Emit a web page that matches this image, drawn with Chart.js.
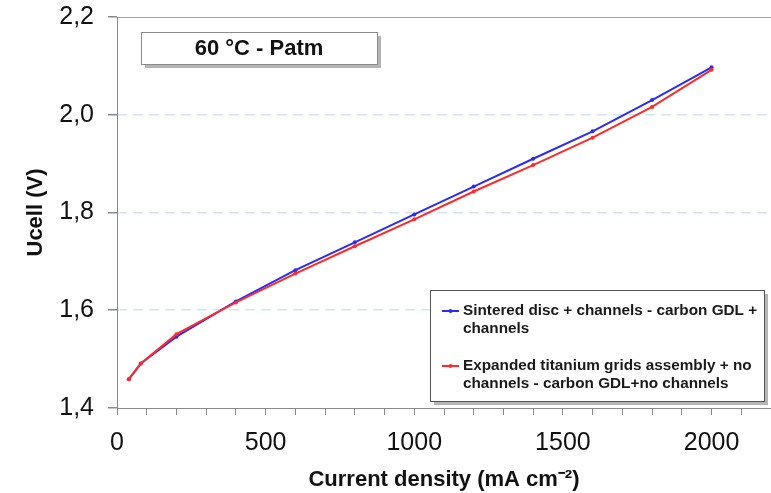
<!DOCTYPE html>
<html>
<head>
<meta charset="utf-8">
<script src="https://cdn.jsdelivr.net/npm/chart.js@4"></script>
<style>
  html, body { margin: 0; padding: 0; background: #fff; }
  #wrap { width: 771px; height: 493px; }
</style>
</head>
<body>
<div id="wrap"><canvas id="polCurve"></canvas></div>
<script>
// Polarisation curves, 60 °C, atmospheric pressure
const currentDensity = [40, 80, 200, 400, 600, 800, 1000, 1200, 1400, 1600, 1800, 2000];
const sinteredDisc = [1.459, 1.491, 1.546, 1.618, 1.682, 1.739, 1.796, 1.853, 1.910, 1.966, 2.030, 2.097];
const expandedGrid = [1.459, 1.491, 1.551, 1.616, 1.675, 1.731, 1.786, 1.843, 1.897, 1.953, 2.016, 2.092];
const seriesNames = [
    ['Sintered disc + channels - carbon GDL +', 'channels'],
    ['Expanded titanium grids assembly + no', 'channels - carbon GDL+no channels'],
];
const yTicks = [1.4, 1.6, 1.8, 2.0, 2.2];
const xLabels = [0, 500, 1000, 1500, 2000];
const conditionText = '60 °C - Patm';

const BLUE = '#2a2aff';
const RED = '#ff2a2a';
const AXIS = '#8a8a8a';
const FONT = '"Liberation Sans", Arial, sans-serif';

// plot frame (top + left lines), boxed caption and legend with drop shadows
const boxesPlugin = {
    id: 'boxes',
    beforeDatasetsDraw(chart) {
        const { ctx, chartArea } = chart;
        ctx.save();
        ctx.strokeStyle = '#a0a0a0';
        ctx.lineWidth = 1;
        ctx.beginPath();
        ctx.moveTo(chartArea.left, chartArea.top + 0.5);
        ctx.lineTo(chartArea.right, chartArea.top + 0.5);
        ctx.stroke();
        ctx.strokeStyle = AXIS;
        ctx.beginPath();
        ctx.moveTo(chartArea.left + 0.5, chartArea.top);
        ctx.lineTo(chartArea.left + 0.5, chartArea.bottom);
        ctx.stroke();
        ctx.restore();
    },
    afterDraw(chart) {
        const ctx = chart.ctx;
        const drawBox = (x, y, w, h, border) => {
            ctx.fillStyle = '#b5b5b5';
            ctx.fillRect(x + 4, y + 4, w, h);
            ctx.fillStyle = '#fff';
            ctx.fillRect(x, y, w, h);
            ctx.strokeStyle = border;
            ctx.lineWidth = 1;
            ctx.strokeRect(x + 0.5, y + 0.5, w, h);
        };
        ctx.save();
        // condition caption
        drawBox(141, 32, 236, 32, '#8c8c8c');
        ctx.fillStyle = '#111';
        ctx.font = 'bold 22px ' + FONT;
        ctx.textAlign = 'center';
        ctx.textBaseline = 'middle';
        ctx.fillText(conditionText, 259, 49);

        // legend
        drawBox(430, 290, 334, 111, '#555');
        ctx.font = 'bold 15.3px ' + FONT;
        ctx.textAlign = 'left';
        const rows = [311, 366];
        chart.data.datasets.forEach((ds, i) => {
            const y = rows[i];
            ctx.strokeStyle = ds.borderColor;
            ctx.lineWidth = 2;
            ctx.beginPath();
            ctx.moveTo(442, y);
            ctx.lineTo(459, y);
            ctx.stroke();
            ctx.fillStyle = ds.borderColor;
            ctx.beginPath();
            ctx.arc(450.5, y, 2, 0, Math.PI * 2);
            ctx.fill();
            ctx.fillStyle = '#1a1a1a';
            seriesNames[i].forEach((line, k) => ctx.fillText(line, 463, y + k * 18));
        });
        ctx.restore();
    }
};

new Chart(document.getElementById('polCurve'), {
    type: 'line',
    data: {
        datasets: [{
            label: seriesNames[0].join(' '),
            data: currentDensity.map((x, i) => ({ x, y: sinteredDisc[i] })),
            borderColor: BLUE,
            backgroundColor: BLUE,
            borderWidth: 2,
            pointRadius: 2,
            pointBorderWidth: 0,
            order: 2,
        }, {
            label: seriesNames[1].join(' '),
            data: currentDensity.map((x, i) => ({ x, y: expandedGrid[i] })),
            borderColor: RED,
            backgroundColor: RED,
            borderWidth: 2,
            pointRadius: 2,
            pointBorderWidth: 0,
            order: 1,
        }]
    },
    options: {
        responsive: true,
        maintainAspectRatio: false,
        animation: false,
        layout: { autoPadding: false, padding: { top: 17, right: 0, left: 0, bottom: 0 } },
        plugins: {
            legend: { display: false },
            tooltip: { enabled: false },
        },
        scales: {
            x: {
                type: 'linear',
                min: 0,
                max: 2200,
                afterFit(scale) {
                    scale.height = 85;
                    scale.paddingLeft = 0;
                    scale.paddingRight = 0;
                },
                border: { color: AXIS, width: 1 },
                grid: {
                    drawOnChartArea: false,
                    drawTicks: true,
                    tickLength: 7,
                    tickColor: AXIS,
                },
                ticks: {
                    stepSize: 100,
                    autoSkip: false,
                    maxRotation: 0,
                    padding: 13,
                    color: '#111',
                    font: { family: FONT, size: 25 },
                    callback: v => xLabels.includes(v) ? String(v) : '',
                },
                title: {
                    display: true,
                    text: 'Current density (mA cm⁻²)',
                    color: '#111',
                    font: { family: FONT, size: 22, weight: 'bold' },
                    padding: { top: 9, bottom: 0 },
                },
            },
            y: {
                type: 'linear',
                min: 1.4,
                max: 2.2,
                afterFit(scale) {
                    scale.width = 117;
                    scale.paddingTop = 0;
                    scale.paddingBottom = 0;
                },
                afterBuildTicks(scale) { scale.ticks = yTicks.map(value => ({ value })); },
                // the axis line itself is drawn by the plugin; dash here styles the grid lines
                border: { display: false, dash: [10, 6] },
                grid: {
                    color: c => (c.tick && (c.tick.value <= 1.41 || c.tick.value >= 2.19)) ? 'rgba(0,0,0,0)' : '#d4e4f6',
                    lineWidth: 1.5,
                    tickLength: 9,
                    tickColor: AXIS,
                    tickBorderDash: [],
                },
                ticks: {
                    padding: 14,
                    color: '#111',
                    font: { family: FONT, size: 25 },
                    callback: v => v.toFixed(1).replace('.', ','),
                },
                title: {
                    display: true,
                    text: 'Ucell (V)',
                    color: '#111',
                    font: { family: FONT, size: 22, weight: 'bold' },
                    padding: { top: 23, bottom: 0 },
                },
            }
        }
    },
    plugins: [boxesPlugin]
});
</script>
</body>
</html>
